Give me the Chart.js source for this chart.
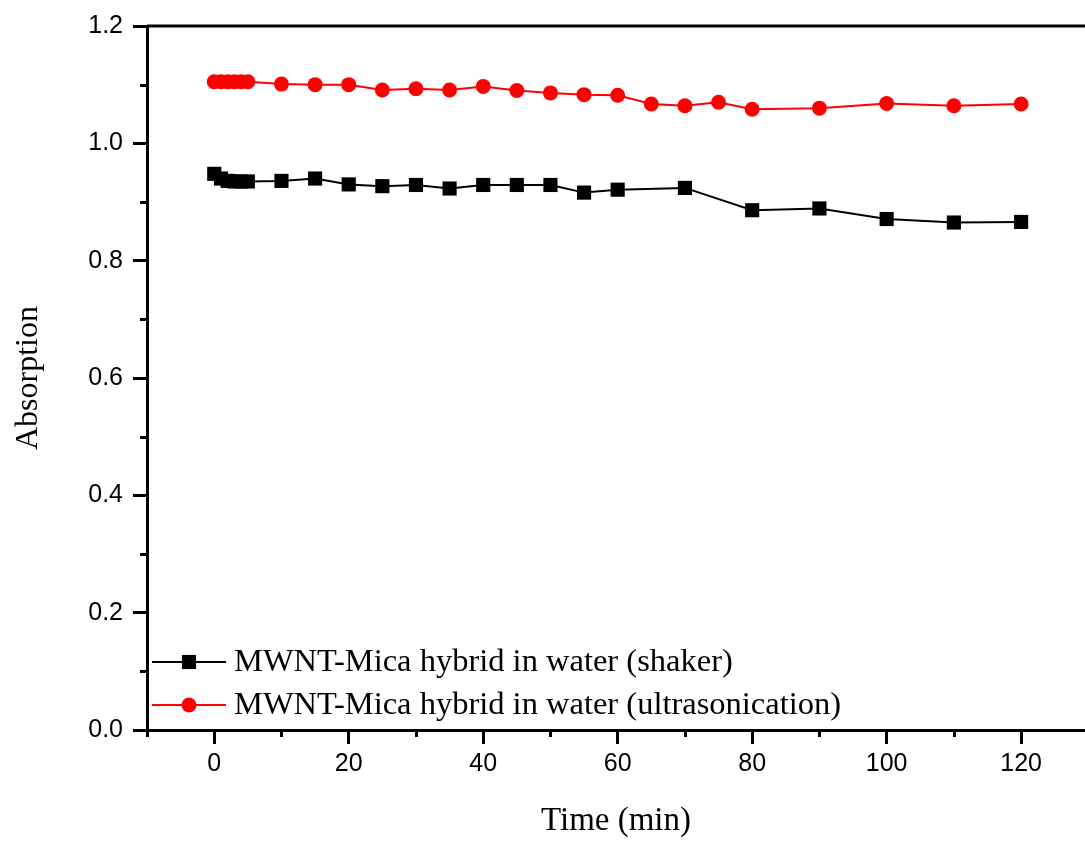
<!DOCTYPE html>
<html>
<head>
<meta charset="utf-8">
<title>MWNT-Mica absorption vs time</title>
<script src="https://cdn.jsdelivr.net/npm/chart.js@4.4.1/dist/chart.umd.min.js"></script>
<style>
  html, body { margin: 0; padding: 0; background: #fff; }
  canvas { display: block; }
</style>
</head>
<body>
<canvas id="absChart" width="1085" height="841"></canvas>
<script>
// Absorption of MWNT-Mica hybrid in water over time - line chart with markers
const shakerTime = [0, 1, 2, 3, 4, 5, 10, 15, 20, 25, 30, 35, 40, 45, 50, 55, 60, 70, 80, 90, 100, 110, 120];
const shakerAbs = [0.948, 0.940, 0.936, 0.935, 0.935, 0.935, 0.936, 0.940, 0.930, 0.927, 0.929, 0.923, 0.929, 0.929, 0.929, 0.916, 0.921, 0.924, 0.886, 0.889, 0.871, 0.865, 0.866];
const sonicTime = [0, 1, 2, 3, 4, 5, 10, 15, 20, 25, 30, 35, 40, 45, 50, 55, 60, 65, 70, 75, 80, 90, 100, 110, 120];
const sonicAbs = [1.105, 1.105, 1.105, 1.105, 1.105, 1.105, 1.101, 1.100, 1.100, 1.091, 1.093, 1.091, 1.097, 1.090, 1.086, 1.083, 1.082, 1.067, 1.064, 1.070, 1.058, 1.060, 1.068, 1.064, 1.067];
const seriesLabels = ['MWNT-Mica hybrid in water (shaker)', 'MWNT-Mica hybrid in water (ultrasonication)'];
const xMajorTicks = [0, 20, 40, 60, 80, 100, 120];
const xMinorTicks = [-10, 10, 30, 50, 70, 90, 110];
const yMajorTicks = [0, 0.2, 0.4, 0.6, 0.8, 1.0, 1.2];
const yMinorTicks = [0.1, 0.3, 0.5, 0.7, 0.9, 1.1];

const sansFont = "'Liberation Sans', Arial, sans-serif";
const serifFont = "'Liberation Serif', 'Times New Roman', serif";

function toPoints(xs, ys) {
    return xs.map((t, i) => ({ x: t, y: ys[i] }));
}

// draws one marker the same way for the plot and the legend
function drawMarker(ctx, style, radius, color, x, y) {
    ctx.fillStyle = color;
    ctx.beginPath();
    if (style === 'rect') {
        const s = radius * Math.SQRT1_2;
        ctx.rect(x - s, y - s, 2 * s, 2 * s);
    } else {
        ctx.arc(x, y, radius, 0, Math.PI * 2);
    }
    ctx.fill();
}

// top frame line, minor ticks and the in-plot legend
const frameAndLegend = {
    id: 'frameAndLegend',
    afterDraw(chart) {
        const ctx = chart.ctx;
        const area = chart.chartArea;
        const xs = chart.scales.x;
        const ys = chart.scales.y;
        ctx.save();
        ctx.strokeStyle = '#000';
        ctx.lineWidth = 3;
        ctx.beginPath();
        ctx.moveTo(area.left, area.top);
        ctx.lineTo(area.right, area.top);
        ctx.stroke();

        ctx.beginPath();
        xMinorTicks.forEach(v => {
            const px = Math.round(xs.getPixelForValue(v)) + 0.5;
            ctx.moveTo(px, area.bottom);
            ctx.lineTo(px, area.bottom + 7);
        });
        yMinorTicks.forEach(v => {
            const py = Math.round(ys.getPixelForValue(v)) + 0.5;
            ctx.moveTo(area.left, py);
            ctx.lineTo(area.left - 7, py);
        });
        ctx.stroke();

        // legend
        const rows = [area.bottom - 68, area.bottom - 25];
        chart.data.datasets.forEach((ds, i) => {
            const y = rows[i];
            ctx.strokeStyle = ds.borderColor;
            ctx.lineWidth = ds.borderWidth;
            ctx.beginPath();
            ctx.moveTo(area.left + 5, y);
            ctx.lineTo(area.left + 79, y);
            ctx.stroke();
            drawMarker(ctx, ds.pointStyle, ds.pointRadius, ds.pointBackgroundColor, area.left + 42, y);
            ctx.fillStyle = '#000';
            ctx.font = '32.5px ' + serifFont;
            ctx.textAlign = 'left';
            ctx.textBaseline = 'middle';
            ctx.fillText(ds.label, area.left + 87, y);
        });
        ctx.restore();
    }
};

const ctx = document.getElementById('absChart').getContext('2d');

new Chart(ctx, {
    type: 'line',
    data: {
        datasets: [
            {
                label: seriesLabels[0],
                data: toPoints(shakerTime, shakerAbs),
                borderColor: '#000000',
                backgroundColor: '#000000',
                pointBackgroundColor: '#000000',
                pointBorderWidth: 0,
                borderWidth: 2,
                pointStyle: 'rect',
                pointRadius: 10,
                pointHoverRadius: 10
            },
            {
                label: seriesLabels[1],
                data: toPoints(sonicTime, sonicAbs),
                borderColor: '#ff0000',
                backgroundColor: '#ff0000',
                pointBackgroundColor: '#ff0000',
                pointBorderWidth: 0,
                borderWidth: 2,
                pointStyle: 'circle',
                pointRadius: 7.5,
                pointHoverRadius: 7.5
            }
        ]
    },
    options: {
        responsive: false,
        animation: false,
        layout: {
            autoPadding: false,
            padding: { left: 0, right: 0, top: 26, bottom: 0 }
        },
        plugins: {
            legend: { display: false },
            tooltip: { enabled: false }
        },
        scales: {
            x: {
                type: 'linear',
                min: -10,
                max: 129.5,
                afterBuildTicks: (axis) => {
                    axis.ticks = xMajorTicks.map(v => ({ value: v }));
                },
                afterFit: (scale) => {
                    scale.height = 111;
                    scale.paddingLeft = 0;
                    scale.paddingRight = 0;
                },
                border: { display: true, color: '#000', width: 3 },
                grid: {
                    drawOnChartArea: false,
                    drawTicks: true,
                    tickLength: 14,
                    tickWidth: 3,
                    tickColor: '#000'
                },
                ticks: {
                    color: '#000',
                    padding: 5,
                    maxRotation: 0,
                    font: { family: sansFont, size: 25 },
                    callback: (v) => String(v)
                },
                title: {
                    display: true,
                    text: 'Time (min)',
                    color: '#000',
                    padding: { top: 0, bottom: 0 },
                    font: { family: serifFont, size: 33 }
                }
            },
            y: {
                type: 'linear',
                min: 0,
                max: 1.2,
                afterBuildTicks: (axis) => {
                    axis.ticks = yMajorTicks.map(v => ({ value: v }));
                },
                afterFit: (scale) => {
                    scale.width = 147;
                },
                border: { display: true, color: '#000', width: 3 },
                grid: {
                    drawOnChartArea: false,
                    drawTicks: true,
                    tickLength: 14,
                    tickWidth: 3,
                    tickColor: '#000'
                },
                ticks: {
                    color: '#000',
                    padding: 10,
                    font: { family: sansFont, size: 25 },
                    callback: (v) => Number(v).toFixed(1)
                },
                title: {
                    display: true,
                    text: 'Absorption',
                    color: '#000',
                    padding: { top: 9, bottom: 0 },
                    font: { family: serifFont, size: 32 }
                }
            }
        }
    },
    plugins: [frameAndLegend]
});
</script>
</body>
</html>
